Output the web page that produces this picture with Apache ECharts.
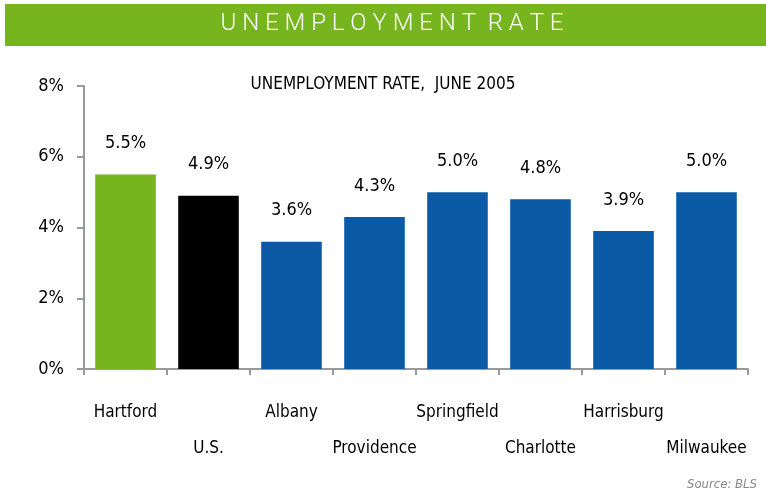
<!DOCTYPE html>
<html>
<head>
<meta charset="utf-8">
<script src="https://cdn.jsdelivr.net/npm/echarts@6/dist/echarts.min.js"></script>
<style>
  html, body { margin: 0; padding: 0; background: #fff; }
  #chart { width: 766px; height: 497px; }
</style>
</head>
<body>
<div id="chart"></div>
<script>
// data
var cities = ['Hartford', 'U.S.', 'Albany', 'Providence', 'Springfield', 'Charlotte', 'Harrisburg', 'Milwaukee']
var rates = [5.5, 4.9, 3.6, 4.3, 5.0, 4.8, 3.9, 5.0]
var barColors = ['#76b51d', '#000000', '#0b5aa6', '#0b5aa6', '#0b5aa6', '#0b5aa6', '#0b5aa6', '#0b5aa6']

var font = "'Liberation Sans Narrow', 'DejaVu Sans Condensed', 'Liberation Sans', sans-serif"

var myChart = echarts.init(document.getElementById('chart'))
myChart.setOption({
  animation: false,
  textStyle: { fontFamily: font },
  graphic: [
    // green banner
    { type: 'rect', shape: { x: 5, y: 4, width: 761, height: 42 }, style: { fill: '#76b51d' } },
    {
      type: 'text', x: 392, y: 24,
      style: {
        text: 'U N E M P L O Y M E N T  R A T E',
        fill: '#fff', font: '300 24px Roboto, sans-serif',
        align: 'center', verticalAlign: 'middle'
      }
    },
    {
      type: 'text', right: 9, top: 478,
      style: { text: 'Source: BLS', fill: '#888', font: 'italic 13px ' + font }
    }
  ],
  title: {
    text: 'UNEMPLOYMENT RATE,  JUNE 2005',
    left: 'center',
    top: 71,
    textStyle: { fontFamily: font, fontSize: 17, fontWeight: 'normal', color: '#000' }
  },
  grid: { left: 84, right: 18, top: 86, bottom: 128 },
  xAxis: {
    type: 'category',
    data: cities,
    axisLine: { lineStyle: { color: '#999', width: 2 } },
    axisTick: { show: true, length: 6, lineStyle: { color: '#999', width: 2 } },
    axisLabel: {
      interval: 0,
      margin: 26,
      color: '#000',
      fontSize: 17,
      lineHeight: 36,
      fontFamily: font,
      formatter: function (value, idx) {
        return idx % 2 === 1 ? '\n' + value : value
      }
    }
  },
  yAxis: {
    type: 'value',
    min: 0,
    max: 8,
    interval: 2,
    splitLine: { show: false },
    axisLine: { show: true, lineStyle: { color: '#999', width: 2 } },
    axisTick: { show: true, length: 7, lineStyle: { color: '#999', width: 2 } },
    axisLabel: {
      margin: 20,
      color: '#000',
      fontSize: 18,
      fontFamily: font,
      formatter: '{value}%'
    }
  },
  series: [
    {
      type: 'bar',
      barCategoryGap: '27%',
      data: rates.map(function (v, i) {
        return { value: v, itemStyle: { color: barColors[i] } }
      }),
      label: {
        show: true,
        position: 'top',
        distance: 22,
        color: '#000',
        fontSize: 18,
        fontFamily: font,
        formatter: function (p) { return p.value.toFixed(1) + '%' }
      }
    }
  ]
})
</script>
</body>
</html>
